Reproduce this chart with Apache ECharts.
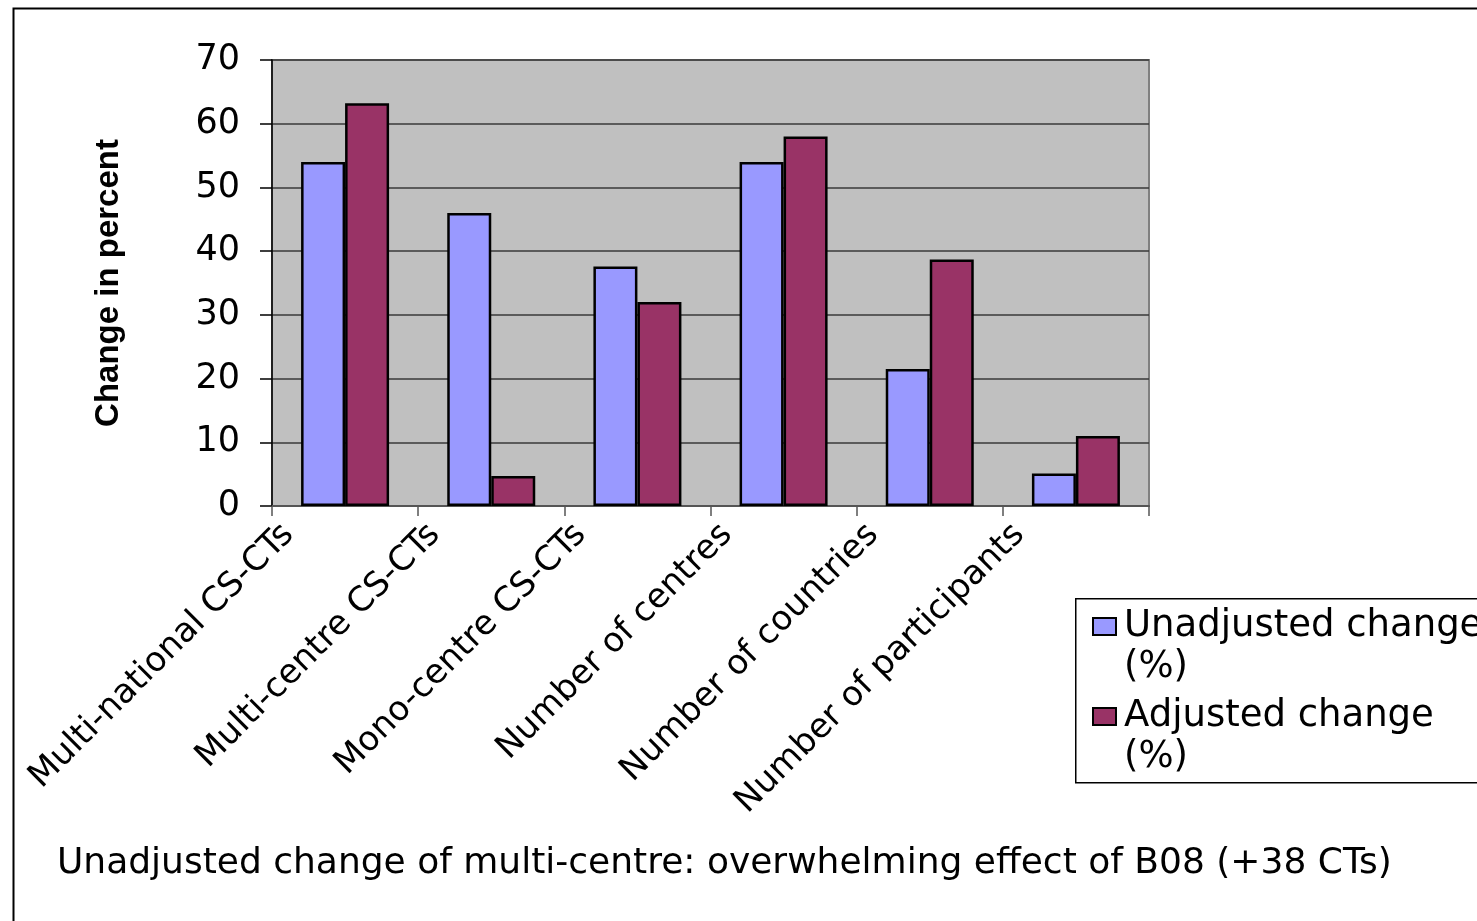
<!DOCTYPE html>
<html>
<head>
<meta charset="utf-8">
<script src="https://cdn.jsdelivr.net/npm/echarts@6/dist/echarts.min.js"></script>
<style>html,body{margin:0;padding:0;background:#fff;}#c{width:1477px;height:921px;}</style>
</head>
<body>
<div id="c"></div>
<script>
var categories = ['Multi-national CS-CTs','Multi-centre CS-CTs','Mono-centre CS-CTs','Number of centres','Number of countries','Number of participants'];
var unadjusted = [54, 46, 37.6, 54, 21.5, 5.1];
var adjusted = [63.2, 4.7, 32, 58, 38.7, 11];
var seriesNames = ['Unadjusted change', 'Adjusted change'];
var legendSuffix = '(%)';
var yTicks = [0, 10, 20, 30, 40, 50, 60, 70];
var yTitle = 'Change in percent';
var footnote = 'Unadjusted change of multi-centre: overwhelming effect of B08 (+38 CTs)';

var FONT = 'DejaVu Sans';
var chart = echarts.init(document.getElementById('c'), null, {renderer: 'canvas'});
chart.setOption({
  animation: false,
  backgroundColor: '#ffffff',
  graphic: [
    {type: 'rect', left: 11, top: 6, shape: {width: 1520, height: 1000}, style: {fill: 'none', stroke: '#000', lineWidth: 2}, silent: true, z: 0},
    {type: 'rect', left: 1075, top: 598, shape: {width: 440, height: 184}, style: {fill: '#fff', stroke: '#000', lineWidth: 1.5}, silent: true, z: 1},
    {type: 'text', left: 57, top: 846, style: {text: footnote, font: '36px "' + FONT + '"', fill: '#000'}, z: 2}
  ],
  grid: {left: 272, top: 60, right: 328, bottom: 415, show: true, backgroundColor: '#C0C0C0', borderColor: '#808080', borderWidth: 2},
  legend: {
    orient: 'vertical', left: 1087, top: 560, z: 5,
    itemWidth: 23, itemHeight: 17, itemGap: -33,
    icon: 'rect',
    formatter: function (name) { return '\n' + name + '\n' + legendSuffix; },
    textStyle: {fontFamily: FONT, fontSize: 37, color: '#000', lineHeight: 41, padding: [0, 0, 0, 3]},
    data: seriesNames
  },
  xAxis: {
    type: 'category', data: categories,
    axisLine: {show: true, lineStyle: {color: '#555', width: 2}},
    axisTick: {show: true, length: 10, lineStyle: {color: '#555', width: 1.5}},
    axisLabel: {interval: 0, rotate: 45, margin: -33, fontFamily: FONT, fontSize: 34, color: '#000', padding: [0, 80, 0, 0]}
  },
  yAxis: {
    type: 'value', min: 0, max: 70, interval: 10,
    name: yTitle, nameLocation: 'middle', nameRotate: 90, nameGap: 147,
    nameTextStyle: {fontFamily: 'Liberation Sans', fontWeight: 'bold', fontSize: 33, color: '#000'},
    axisLine: {show: true, lineStyle: {color: '#000', width: 1.5}},
    axisTick: {show: true, inside: false, length: 12, lineStyle: {color: '#000', width: 1.5}},
    axisLabel: {margin: 32, fontFamily: FONT, fontSize: 35, color: '#000', formatter: function (v) { return yTicks.indexOf(v) >= 0 ? String(v) : ''; }},
    splitLine: {show: true, lineStyle: {color: '#3a3a3a', width: 1.5}}
  },
  series: [
    {name: seriesNames[0], type: 'bar', data: unadjusted, barWidth: 44, barGap: '0%',
     itemStyle: {color: '#9999FF', borderColor: '#000', borderWidth: 2.5}},
    {name: seriesNames[1], type: 'bar', data: adjusted, barWidth: 44, barGap: '0%',
     itemStyle: {color: '#993366', borderColor: '#000', borderWidth: 2.5}}
  ]
});
</script>
</body>
</html>
